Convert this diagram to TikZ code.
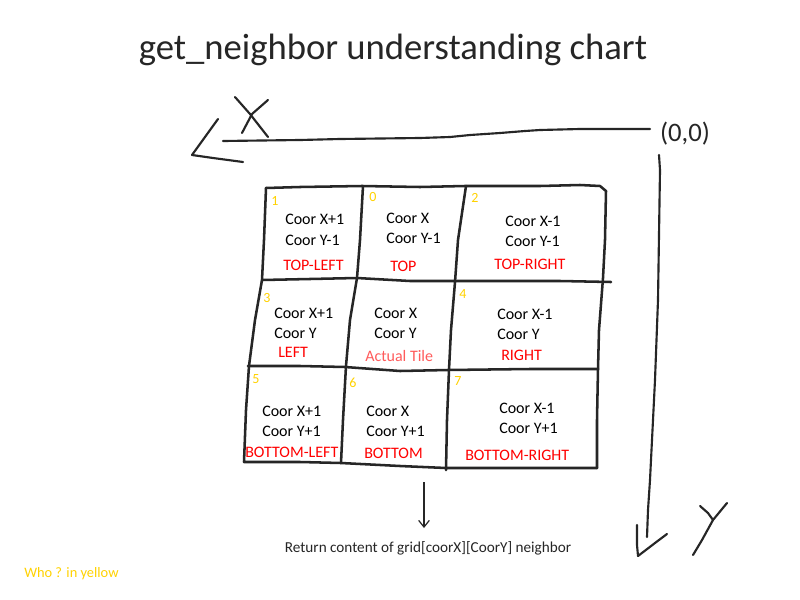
\documentclass[tikz,border=0pt]{standalone}
\usepackage{fontspec}
\setmainfont{Carlito}
\usetikzlibrary{arrows.meta}
\definecolor{ink}{HTML}{262626}
\definecolor{numy}{HTML}{FFD200}
\definecolor{lblred}{HTML}{FF0000}
\definecolor{tilered}{HTML}{FF5B5B}
\begin{document}
\begin{tikzpicture}[x=0.75pt,y=-0.75pt,
  hand/.style={draw=ink,line width=1.9pt,line cap=round,line join=round},
  coor/.style={anchor=west,inner sep=0pt,font=\fontsize{12}{14}\selectfont,text=black},
  lbl/.style={anchor=west,inner sep=0pt,font=\fontsize{12}{14}\selectfont,text=lblred},
  num/.style={anchor=center,inner sep=0pt,font=\fontsize{10.5}{12}\selectfont,text=numy}]
\useasboundingbox (0,0) rectangle (800,600);
\fill[white] (0,0) rectangle (800,600);
% title
\node[inner sep=0pt,font=\fontsize{27.5}{32}\selectfont,text=ink] (title) at (393,50) {get\_neighbor understanding chart};
% X axis
\node[inner sep=0pt,font=\fontsize{20}{24}\selectfont,text=ink] (origin) at (685,134) {(0,0)};
\draw[hand,line width=1.6pt] (650,129) -- (580,129) -- (540,130) -- (525,131) -- (500,133) -- (470,135) -- (450,137) -- (420,138) -- (340,139) -- (300,140) -- (223,141);
\draw[hand,line width=1.6pt] (218,119) -- (205,137) -- (192,155) -- (213,158) -- (243,162);
\draw[hand,line width=1.6pt] (235,97) -- (250,114) -- (268,137);
\draw[hand,line width=1.6pt] (268,100) -- (252,114) -- (242,133);
% Y axis
\draw[hand,line width=1.6pt] (659,155) -- (660,170) -- (658,300) -- (655,380) -- (653,420) -- (652,440) -- (650,480) -- (648,510) -- (647,537);
\draw[hand,line width=1.6pt] (637,525) -- (637,545) -- (638,556) -- (655,543) -- (667,534);
\draw[hand,line width=1.6pt] (700,506) -- (708,513) -- (713,520);
\draw[hand,line width=1.6pt] (727,503) -- (713,520) -- (702,540) -- (693,555);
% grid
\draw[hand] (266,188) -- (300,187) -- (362,186) -- (420,187) -- (465,186) -- (540,186) -- (580,185) -- (600,186) -- (606,191) -- (605,240) -- (603,278) -- (599,330) -- (598,369) -- (597,420) -- (597,468);
\draw[hand] (266,188) -- (264,240) -- (262,280) -- (255,320) -- (249,366) -- (246,410) -- (244,462) -- (300,462) -- (341,463) -- (400,466) -- (446,468) -- (520,468) -- (597,468);
\draw[hand] (262,280) -- (310,279) -- (357,278) -- (410,281) -- (455,281) -- (560,281) -- (611,282);
\draw[hand] (248,366) -- (300,366) -- (345,367) -- (400,371) -- (448,370) -- (530,369) -- (598,369);
\draw[hand] (363,186) -- (360,240) -- (357,278) -- (350,320) -- (346,366) -- (343,420) -- (341,463);
\draw[hand] (466,186) -- (458,240) -- (455,282) -- (451,330) -- (449,370) -- (447,420) -- (446,470);
% numbers
\node[num] (n1) at (275,201) {1};
\node[num] (n0) at (373,197) {0};
\node[num] (n2) at (475,198) {2};
\node[num] (n3) at (267,298) {3};
\node[num] (n4) at (463,294) {4};
\node[num] (n5) at (256,379) {5};
\node[num] (n6) at (353,383) {6};
\node[num] (n7) at (458,381) {7};
% cell 1
\node[coor] (c1a) at (285,219) {Coor X+1};
\node[coor] (c1b) at (285,240) {Coor Y-1};
\node[lbl] (c1l) at (283,265) {TOP-LEFT};
% cell 0
\node[coor] (c0a) at (386,218) {Coor X};
\node[coor] (c0b) at (386,238) {Coor Y-1};
\node[lbl] (c0l) at (390,266) {TOP};
% cell 2
\node[coor] (c2a) at (505,221) {Coor X-1};
\node[coor] (c2b) at (505,241) {Coor Y-1};
\node[lbl] (c2l) at (494,264) {TOP-RIGHT};
% cell 3
\node[coor] (c3a) at (274,313) {Coor X+1};
\node[coor] (c3b) at (274,333) {Coor Y};
\node[lbl] (c3l) at (278,352) {LEFT};
% centre
\node[coor] (cca) at (374,313) {Coor X};
\node[coor] (ccb) at (374,333) {Coor Y};
\node[anchor=west,inner sep=0pt,font=\fontsize{12}{14}\selectfont,text=tilered] (ccl) at (365,356) {Actual Tile};
% cell 4
\node[coor] (c4a) at (497,314) {Coor X-1};
\node[coor] (c4b) at (497,334) {Coor Y};
\node[lbl] (c4l) at (501,355) {RIGHT};
% cell 5
\node[coor] (c5a) at (262,411) {Coor X+1};
\node[coor] (c5b) at (262,431) {Coor Y+1};
\node[lbl] (c5l) at (245,452) {BOTTOM-LEFT};
% cell 6
\node[coor] (c6a) at (366,411) {Coor X};
\node[coor] (c6b) at (366,431) {Coor Y+1};
\node[lbl] (c6l) at (364,453) {BOTTOM};
% cell 7
\node[coor] (c7a) at (499,408) {Coor X-1};
\node[coor] (c7b) at (499,428) {Coor Y+1};
\node[lbl] (c7l) at (465,455) {BOTTOM-RIGHT};
% return arrow and text
\node[inner sep=0pt,font=\fontsize{11.4}{13}\selectfont,text=ink] (ret) at (428,548) {Return content of grid[coorX][CoorY] neighbor};
\coordinate (arrtop) at (424,482);
\coordinate (arrbot) at (424,528);
\draw[ink,line width=0.9pt,-{Straight Barb[length=5pt,width=8pt]}] (arrtop) -- (arrbot);
\node[anchor=west,inner sep=0pt,font=\fontsize{10.8}{12}\selectfont,text=numy] (who) at (24,574) {Who ? in yellow};
\end{tikzpicture}
\end{document}
